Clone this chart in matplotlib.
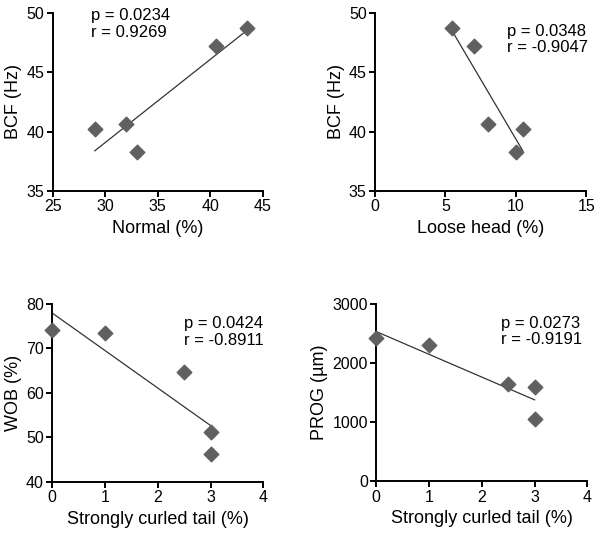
import numpy as np
import matplotlib
matplotlib.use('Agg')
import matplotlib.pyplot as plt

plt.rcParams['font.family'] = ['Liberation Sans', 'DejaVu Sans']

normal_x = [29, 32, 33, 40.5, 43.5]
normal_bcf = [40.2, 40.6, 38.3, 47.2, 48.7]

loose_x = [5.5, 7, 8, 10, 10.5]
loose_bcf = [48.7, 47.2, 40.6, 38.3, 40.2]

curled_x = [0, 1, 2.5, 3, 3]
curled_wob = [74.1, 73.4, 64.6, 51.3, 46.3]
curled_prog = [2420, 2300, 1650, 1590, 1050]

stats = [('p = 0.0234', 'r = 0.9269'),
         ('p = 0.0348', 'r = -0.9047'),
         ('p = 0.0424', 'r = -0.8911'),
         ('p = 0.0273', 'r = -0.9191')]

panels = [
    (normal_x, normal_bcf, 'Normal (%)', 'BCF (Hz)', (25, 45), [25, 30, 35, 40, 45], (35, 50), [35, 40, 45, 50], (0.18, 1.025)),
    (loose_x, loose_bcf, 'Loose head (%)', 'BCF (Hz)', (0, 15), [0, 5, 10, 15], (35, 50), [35, 40, 45, 50], (0.625, 0.94)),
    (curled_x, curled_wob, 'Strongly curled tail (%)', 'WOB (%)', (0, 4), [0, 1, 2, 3, 4], (40, 80), [40, 50, 60, 70, 80], (0.625, 0.93)),
    (curled_x, curled_prog, 'Strongly curled tail (%)', 'PROG (µm)', (0, 4), [0, 1, 2, 3, 4], (0, 3000), [0, 1000, 2000, 3000], (0.59, 0.935)),
]

positions = [
    [0.088, 0.646, 0.35, 0.330],
    [0.625, 0.646, 0.352, 0.330],
    [0.087, 0.106, 0.352, 0.330],
    [0.627, 0.107, 0.352, 0.329],
]

fig = plt.figure(figsize=(6, 5.39), dpi=100)

for i, (x, y, xl, yl, xlim, xt, ylim, yt, tpos) in enumerate(panels):
    ax = fig.add_axes(positions[i])
    x = np.array(x, dtype=float)
    y = np.array(y, dtype=float)
    slope, icpt = np.polyfit(x, y, 1)
    xs = np.array([x.min(), x.max()])
    ax.plot(xs, slope * xs + icpt, color='#333333', lw=0.9, zorder=2)
    ax.scatter(x, y, marker='D', s=55, color='#606060', zorder=3, clip_on=False)
    ax.set_xlim(*xlim)
    ax.set_ylim(*ylim)
    ax.set_xticks(xt)
    ax.set_yticks(yt)
    ax.set_xlabel(xl, fontsize=13, labelpad=4)
    ax.set_ylabel(yl, fontsize=13, labelpad=3)
    for s in ['top', 'right']:
        ax.spines[s].set_visible(False)
    for s in ['left', 'bottom']:
        ax.spines[s].set_linewidth(1.4)
    ax.tick_params(axis='both', labelsize=11.5, width=1.4, length=4, direction='out', pad=2)
    ax.text(tpos[0], tpos[1], stats[i][0] + '\n' + stats[i][1], transform=ax.transAxes,
            fontsize=12, va='top', ha='left', linespacing=1.15)

fig.savefig('out.png', dpi=100)
